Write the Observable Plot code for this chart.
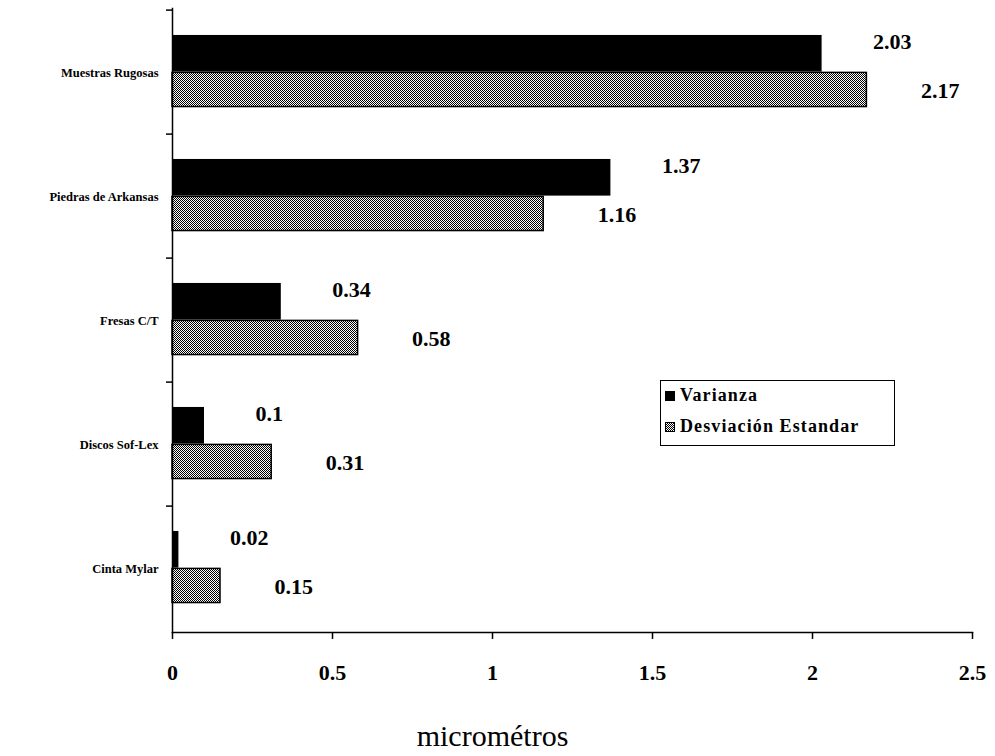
<!DOCTYPE html>
<html>
<head>
<meta charset="utf-8">
<script src="https://cdn.jsdelivr.net/npm/d3@7"></script>
<script src="https://cdn.jsdelivr.net/npm/@observablehq/plot@0.6"></script>
<style>
  html, body { margin: 0; padding: 0; background: #fff; }
  #wrap { position: relative; width: 995px; height: 756px; }
  #legend {
    position: absolute; left: 660px; top: 380px; width: 233px; height: 64px;
    border: 1.5px solid #000; background: #fff;
    font-family: "Liberation Serif", "DejaVu Serif", serif; font-weight: bold;
    font-size: 18px; letter-spacing: 1.1px; color: #000;
  }
  #legend .row { position: absolute; left: 4px; display: flex; align-items: center; white-space: nowrap; }
  #legend .sw { width: 10px; height: 10px; margin-right: 5px; box-sizing: border-box; }
</style>
</head>
<body>
<div id="wrap"></div>
<script>
const categories = ["Muestras Rugosas", "Piedras de Arkansas", "Fresas C/T", "Discos Sof-Lex", "Cinta Mylar"];
const varianza = [2.03, 1.37, 0.34, 0.1, 0.02];
const desviacion = [2.17, 1.16, 0.58, 0.31, 0.15];
const seriesNames = ["Varianza", "Desviación Estandar"];
const xTicks = [0, 0.5, 1, 1.5, 2, 2.5];
const xLabel = "micrométros";

const varData = categories.map((c, i) => ({cat: c, value: varianza[i]}));
const desvData = categories.map((c, i) => ({cat: c, value: desviacion[i]}));

const W = 995, H = 756, mT = 8, mB = 124, mL = 172, mR = 23;
const bw = (H - mT - mB) / categories.length;
const serif = "Liberation Serif, DejaVu Serif, serif";

const chart = Plot.plot({
  width: W, height: H,
  marginTop: mT, marginBottom: mB, marginLeft: mL, marginRight: mR,
  style: {fontFamily: serif, background: "#fff", color: "#000"},
  x: {domain: [0, 2.5]},
  y: {domain: categories, padding: 0},
  marks: [
    Plot.barX(varData, {y: "cat", x: "value", fill: "#000", insetTop: bw * 0.2, insetBottom: bw * 0.5}),
    Plot.barX(desvData, {y: "cat", x: "value", fill: "url(#stip)", stroke: "#000", strokeWidth: 1.5, insetTop: bw * 0.5, insetBottom: bw * 0.22}),
    Plot.text(varData, {y: "cat", x: "value", text: d => String(d.value), textAnchor: "start", dx: 51, dy: -31, fontSize: 22, fontWeight: "bold"}),
    Plot.text(desvData, {y: "cat", x: "value", text: d => String(d.value), textAnchor: "start", dx: 54, dy: 18, fontSize: 22, fontWeight: "bold"}),
    Plot.frame({anchor: "left", stroke: "#000", strokeWidth: 1.5}),
    Plot.frame({anchor: "bottom", stroke: "#000", strokeWidth: 1.5}),
    Plot.axisY({tickSize: 6, dy: -bw / 2, tickFormat: () => "", label: null, strokeWidth: 1.5}),
    Plot.axisY({tickSize: 0, tickPadding: 14, label: null, fontSize: 12.5, fontWeight: "bold", letterSpacing: 0.9}),
    Plot.axisX({ticks: xTicks, tickSize: 7, tickPadding: 25, label: null, fontSize: 22, fontWeight: "bold", strokeWidth: 1.5, tickFormat: d => String(d)}),
    Plot.text([xLabel], {x: 1, frameAnchor: "bottom", dy: 113, fontSize: 30, fontWeight: "normal"})
  ]
});

const ns = "http://www.w3.org/2000/svg";
const defs = document.createElementNS(ns, "defs");
defs.innerHTML = `<pattern id="stip" width="2" height="2" patternUnits="userSpaceOnUse">
  <rect width="2" height="2" fill="#fff"/>
  <rect x="0" y="0" width="1" height="1" fill="#000"/>
  <rect x="1" y="1" width="1" height="1" fill="#000"/>
</pattern>`;
chart.insertBefore(defs, chart.firstChild);

const wrap = document.getElementById("wrap");
wrap.appendChild(chart);

const legend = document.createElement("div");
legend.id = "legend";
legend.innerHTML = `
  <div class="row" style="top:4px"><span class="sw" style="background:#000"></span>${seriesNames[0]}</div>
  <div class="row" style="top:35px"><span class="sw" style="border:1px solid #000;background:repeating-conic-gradient(#000 0 25%, #fff 0 50%) 0 0/2px 2px"></span>${seriesNames[1]}</div>`;
wrap.appendChild(legend);
</script>
</body>
</html>
